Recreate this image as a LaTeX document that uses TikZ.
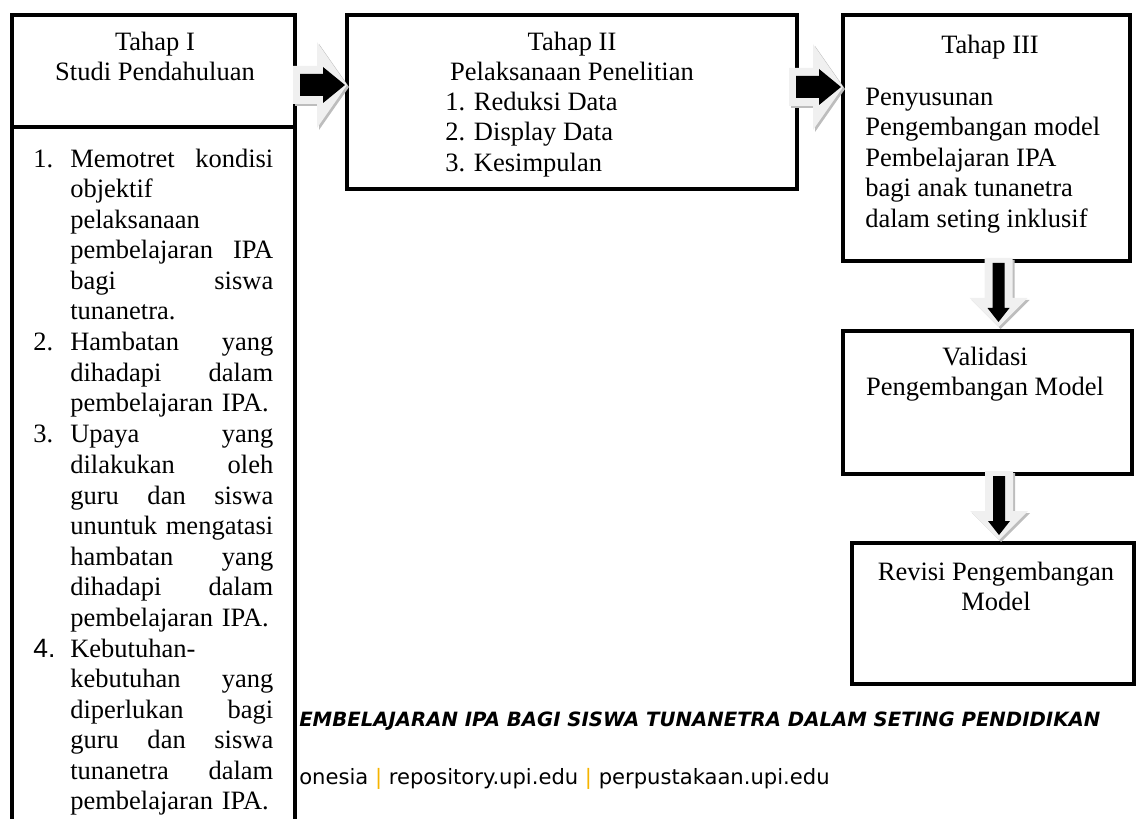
\documentclass[tikz,border=0pt]{standalone}
\usepackage{fontspec}
\setmainfont{Liberation Serif}
\newfontfamily\footfont{DejaVu Sans}
\newfontfamily\numfont{Liberation Sans}
\usepackage{tikz}
\usetikzlibrary{positioning,fit,calc}
\setlength{\parindent}{0pt}

\definecolor{arrowfill}{HTML}{F0F0F0}
\definecolor{arrowshade}{HTML}{BDBDBD}
\definecolor{baryellow}{HTML}{F6B400}

\tikzset{
  pics/rblock/.style={code={
    \foreach \d/\c in {2/arrowshade,0/arrowfill}
      \fill[\c, shift={(\d,\d)}] (-54,-19) -- (-30,-19) -- (-30,-43) -- (0,0)
        -- (-30,43) -- (-30,19) -- (-54,19) -- cycle;
    \fill[black] (-47,-11) -- (-24,-11) -- (-24,-18) -- (-2,0) -- (-24,18)
      -- (-24,11) -- (-47,11) -- cycle;
  }},
  pics/dblock/.style={code={
    \foreach \d/\c in {2/arrowshade,0/arrowfill}
      \fill[\c, shift={(\d,\d)}] (-14,-69) -- (14,-69) -- (14,-29) -- (29,-29)
        -- (0,0) -- (-29,-29) -- (-14,-29) -- cycle;
    \fill[black] (-6,-64) -- (6,-64) -- (6,-19) -- (11,-19) -- (0,-5)
      -- (-11,-19) -- (-6,-19) -- cycle;
  }}
}

\begin{document}
\begin{tikzpicture}[
    x=0.025cm, y=-0.025cm,
    box/.style={draw=black, line width=2.85pt, inner sep=0pt, outer sep=0pt},
    txt/.style={font=\fontsize{18.85}{21.7}\selectfont, inner sep=0pt, align=center,
      execute at begin node=\strut, execute at end node=\strut},
    item/.style={txt, align=left, text width=5.075cm},
    num/.style={txt, anchor=north west},
    foot/.style={inner sep=0pt, anchor=base west}
]
\useasboundingbox (0,0) rectangle (1136,819);
\clip (0,0) rectangle (1136,819);

% footer of the page behind
\node[foot, font=\footfont\bfseries\itshape\fontsize{14}{16}\selectfont] (foot1) at (299,726)
    {EMBELAJARAN IPA BAGI SISWA TUNANETRA DALAM SETING PENDIDIKAN};
\node[foot, font=\footfont\fontsize{15}{18}\selectfont] (foot2) at (299,784)
    {onesia \textcolor{baryellow}{|} repository.upi.edu \textcolor{baryellow}{|} perpustakaan.upi.edu};

% boxes
\node[box, fit={(12,15) (295,127)}] (s1) {};
\node[box, fit={(12,127) (295,840)}] (s1b) {};
\node[box, fit={(347,15) (797,189)}] (s2) {};
\node[box, fit={(843,15) (1130,261)}] (s3) {};
\node[box, fit={(843,331) (1132,474)}] (s4) {};
\node[box, fit={(852,543) (1134,684)}] (s5) {};

% tahap I
\node[txt, anchor=north] (t1) at (155,31.6) {Tahap I\\Studi Pendahuluan};
\node[item, anchor=north west] (i1) at (70,145.6)
    {Memotret\hfill kondisi\\objektif\\pelaksanaan\\pembelajaran\hfill IPA\\bagi\hfill siswa\\tunanetra.};
\node[item, below=0pt of i1] (i2)
    {Hambatan\hfill yang\\dihadapi\hfill dalam\\pembelajaran IPA.};
\node[item, below=0pt of i2] (i3)
    {Upaya\hfill yang\\dilakukan\hfill oleh\\guru\hfill dan\hfill siswa\\ununtuk\hfill mengatasi\\hambatan\hfill yang\\dihadapi\hfill dalam\\pembelajaran IPA.};
\node[item, below=0pt of i3] (i4)
    {Kebutuhan-\\kebutuhan\hfill yang\\diperlukan\hfill bagi\\guru\hfill dan\hfill siswa\\tunanetra\hfill dalam\\pembelajaran IPA.};
\node[num] (n1) at ($(i1.north west)+(-37,0)$) {1.};
\node[num] (n2) at ($(i2.north west)+(-37,0)$) {2.};
\node[num] (n3) at ($(i3.north west)+(-37,0)$) {3.};
\node[num] (n4) at ($(i4.north west)+(-37,0)$) {\numfont 4.};

% tahap II
\node[txt, anchor=north] (t2) at (572,31.6) {Tahap II\\Pelaksanaan Penelitian};
\node[txt, align=left, anchor=north west] (t2list) at (445,91.6)
    {1. Reduksi Data\\2. Display Data\\3. Kesimpulan};

% tahap III
\node[txt, anchor=north] (t3) at (990,31.6) {Tahap III};
\node[txt, align=left, anchor=north west] (t3list) at (865,87.6)
    {Penyusunan\\Pengembangan model\\Pembelajaran IPA\\bagi anak tunanetra\\dalam seting inklusif};

\node[txt, anchor=north] (t4) at (985,346.6) {Validasi\\Pengembangan Model};
\node[txt, anchor=north] (t5) at (996,561.6) {Revisi Pengembangan\\Model};

% block arrows
\pic at ($(s2.west)+(0,-17)$) {rblock};
\pic at ($(s3.west)+(0,-51)$) {rblock};
\pic at ($(s4.north)+(11,-4)$) {dblock};
\pic at ($(s5.north)+(6,-3)$) {dblock};
\end{tikzpicture}
\end{document}
